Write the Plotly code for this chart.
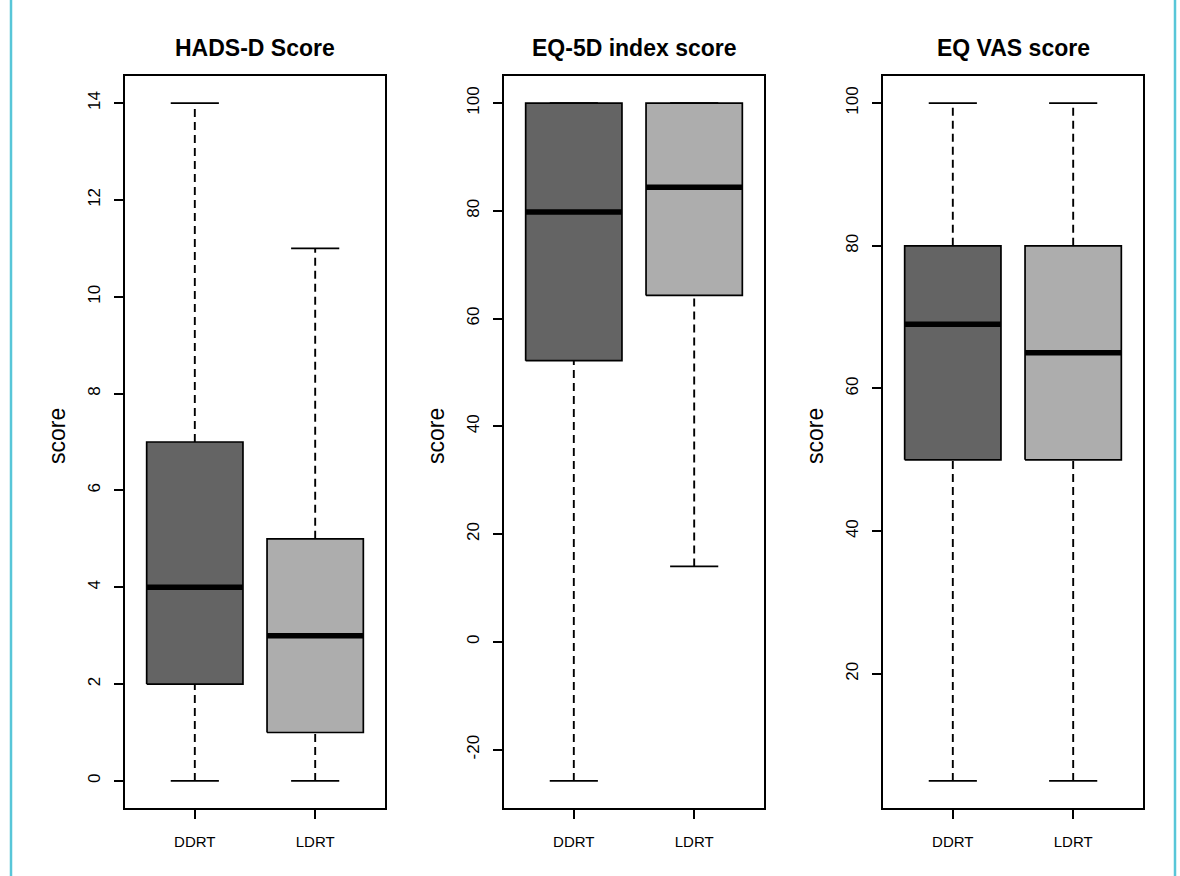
import plotly.graph_objects as go

# Group labels and box colours
groups = ["DDRT", "LDRT"]
group_pos = [1, 2]
fills = ["#646464", "#adadad"]

# Panel titles
titles = ["HADS-D Score", "EQ-5D index score", "EQ VAS score"]

# Five-number summaries per panel: [DDRT, LDRT]
hads_low = [0, 0]
hads_q1 = [2, 1]
hads_med = [4, 3]
hads_q3 = [7, 5]
hads_high = [14, 11]

eq5d_low = [-25.8, 14.0]
eq5d_q1 = [52.2, 64.3]
eq5d_med = [79.8, 84.4]
eq5d_q3 = [100, 100]
eq5d_high = [100, 100]

vas_low = [5, 5]
vas_q1 = [50, 50]
vas_med = [69, 65]
vas_q3 = [80, 80]
vas_high = [100, 100]

# Y tick values per panel
hads_ticks = [0, 2, 4, 6, 8, 10, 12, 14]
eq5d_ticks = [-20, 0, 20, 40, 60, 80, 100]
vas_ticks = [20, 40, 60, 80, 100]

panels = [
    (hads_low, hads_q1, hads_med, hads_q3, hads_high, hads_ticks),
    (eq5d_low, eq5d_q1, eq5d_med, eq5d_q3, eq5d_high, eq5d_ticks),
    (vas_low, vas_q1, vas_med, vas_q3, vas_high, vas_ticks),
]

W, H = 1180, 876
x_domains = [(125, 385), (504, 764), (883, 1143)]
y_top, y_bot = 76, 808
FONT = "Arial, Liberation Sans, sans-serif"

BOX_HALF = 0.4
CAP_HALF = 0.2
LW = 1.7

fig = go.Figure()

for p, (low, q1, med, q3, high, ticks) in enumerate(panels):
    xa = "x" if p == 0 else f"x{p + 1}"
    ya = "y" if p == 0 else f"y{p + 1}"
    for i, c in enumerate(group_pos):
        # box body
        fig.add_trace(go.Scatter(
            x=[c - BOX_HALF, c + BOX_HALF, c + BOX_HALF, c - BOX_HALF, c - BOX_HALF],
            y=[q1[i], q1[i], q3[i], q3[i], q1[i]],
            mode="lines", fill="toself", fillcolor=fills[i],
            line=dict(color="black", width=LW),
            xaxis=xa, yaxis=ya, showlegend=False, hoverinfo="skip"))
        # dashed whiskers
        for a, b in ((low[i], q1[i]), (q3[i], high[i])):
            if a != b:
                fig.add_trace(go.Scatter(
                    x=[c, c], y=[a, b], mode="lines",
                    line=dict(color="black", width=1.9, dash="8px,5px"),
                    xaxis=xa, yaxis=ya, showlegend=False, hoverinfo="skip"))
        # whisker caps
        for v in (low[i], high[i]):
            fig.add_trace(go.Scatter(
                x=[c - CAP_HALF, c + CAP_HALF], y=[v, v], mode="lines",
                line=dict(color="black", width=LW),
                xaxis=xa, yaxis=ya, showlegend=False, hoverinfo="skip"))
        # median bar
        fig.add_trace(go.Scatter(
            x=[c - BOX_HALF, c + BOX_HALF], y=[med[i], med[i]], mode="lines",
            line=dict(color="black", width=5.5),
            xaxis=xa, yaxis=ya, showlegend=False, hoverinfo="skip"))

    lo_all, hi_all = min(low), max(high)
    pad = 0.04 * (hi_all - lo_all)
    dom = [x_domains[p][0] / W, x_domains[p][1] / W]
    axis_common = dict(showline=True, mirror=True, linecolor="black", linewidth=1.7,
                       showgrid=False, zeroline=False, ticks="outside", ticklen=9,
                       tickwidth=1.5, tickcolor="black")
    fig.update_layout(**{
        ("xaxis" if p == 0 else f"xaxis{p + 1}"): dict(
            domain=dom, range=[0.42, 2.58], tickvals=group_pos, ticktext=groups,
            anchor=ya, ticklabelstandoff=10,
            tickfont=dict(family=FONT, size=15, color="black"), **axis_common),
        ("yaxis" if p == 0 else f"yaxis{p + 1}"): dict(
            domain=[1 - y_bot / H, 1 - y_top / H], range=[lo_all - pad, hi_all + pad],
            tickvals=ticks, ticktext=[str(t) for t in ticks], tickangle=-90,
            anchor=xa, ticklabelstandoff=7,
            tickfont=dict(family=FONT, size=17, color="black"), **axis_common),
    })
    cx = (x_domains[p][0] + x_domains[p][1]) / 2 / W
    fig.add_annotation(text=f"<b>{titles[p]}</b>", x=cx, y=1 - 48 / H,
                       xref="paper", yref="paper", showarrow=False,
                       font=dict(family=FONT, size=23, color="black"),
                       xanchor="center", yanchor="middle")
    fig.add_annotation(text="score", x=(x_domains[p][0] - 68) / W, y=1 - 436 / H,
                       xref="paper", yref="paper", showarrow=False, textangle=-90,
                       font=dict(family=FONT, size=23, color="black"),
                       xanchor="center", yanchor="middle")

# page edge rules
for xpx in (11, 1175):
    fig.add_shape(type="line", xref="paper", yref="paper",
                  x0=xpx / W, x1=xpx / W, y0=0, y1=1,
                  line=dict(color="#58c6d8", width=2.5))

fig.update_layout(width=W, height=H, margin=dict(l=0, r=0, t=0, b=0),
                  paper_bgcolor="white", plot_bgcolor="white", showlegend=False)

fig.write_html("out.html")
